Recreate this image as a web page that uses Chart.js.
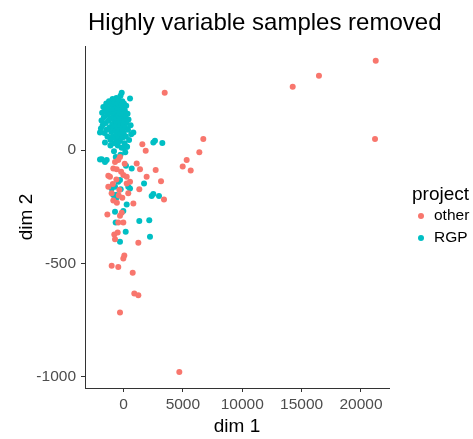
<!DOCTYPE html>
<html>
<head>
<meta charset="utf-8">
<script src="https://cdn.jsdelivr.net/npm/chart.js"></script>
<style>
  html, body { margin: 0; padding: 0; background: #fff; }
  #wrap { width: 473px; height: 439px; }
</style>
</head>
<body>
<div id="wrap"><canvas id="mds"></canvas></div>
<script>
// MDS coordinates per sample, split by project
const otherPts = [
  [3470, 253], [14250, 279], [16460, 328], [21240, 394], [21180, 49],
  [6720, 49], [6385, -10], [5320, -44], [4985, -72], [5660, -90],
  [2710, -88], [3160, -137], [3410, -218], [4700, -979],
  [-295, -716], [910, -632], [1250, -640],
  [1585, 26], [1870, -3], [1110, -59], [1390, -85], [1950, -118], [1330, -173],
  [-715, -52], [-860, -81], [-575, -85], [-1280, -113], [-1140, -118],
  [-15, -110], [270, -118], [-1280, -162], [270, -147], [550, -140],
  [-295, -30], [-350, -176], [-440, -44], [-600, -130], [-900, -150],
  [100, -60], [-200, -95], [-1000, -190], [400, -190], [-100, -210],
  [-860, -222], [-560, -232], [-400, -200],
  [-1360, -284], [-295, -290], [-150, -276], [-15, -319], [-440, -319],
  [830, -235], [-775, -372], [-490, -363], [-715, -393], [1250, -409],
  [70, -465], [-15, -478], [-995, -510], [-440, -515], [775, -541]
];
const rgpPts = [
  [-1900, 95], [-1850, 130], [-1800, 165], [-1750, 110], [-1700, 190],
  [-1650, 145], [-1600, 75], [-1550, 175], [-1500, 120], [-1450, 205],
  [-1420, 90], [-1380, 155], [-1350, 60], [-1300, 185], [-1260, 130],
  [-1220, 215], [-1180, 100], [-1150, 165], [-1100, 45], [-1080, 140],
  [-1050, 200], [-1020, 80], [-980, 175], [-950, 115], [-920, 225],
  [-900, 60], [-870, 150], [-850, 190], [-820, 100], [-800, 30],
  [-780, 170], [-750, 130], [-730, 210], [-700, 85], [-680, 160],
  [-650, 50], [-640, 195], [-620, 120], [-600, 230], [-580, 140],
  [-560, 70], [-540, 180], [-520, 105], [-500, 205], [-480, 20],
  [-470, 155], [-450, 90], [-430, 185], [-420, 125], [-400, 55],
  [-390, 220], [-370, 165], [-350, 100], [-330, 195], [-310, 135],
  [-300, 40], [-280, 175], [-260, 110], [-250, 240], [-230, 70],
  [-220, 150], [-200, 200], [-180, 120], [-160, 10], [-150, 253],
  [-140, 170], [-120, 90], [-100, 215], [-90, 140], [-70, 55],
  [-50, 185], [-30, 115], [-10, 160], [20, 75], [40, 205],
  [60, 130], [90, 30], [110, 175], [140, 100], [170, 150],
  [200, 60], [230, 195], [260, 120], [300, 15], [340, 160],
  [380, 90], [420, 135], [470, 45], [550, 228], [600, 110],
  [650, 70], [830, 78], [270, 15], [-1980, 78], [-1560, 34],
  [-1840, -40], [-1415, -44], [-1980, -41], [-1560, -52],
  [-1100, 20], [-800, -5], [-500, 35], [-250, -20], [0, 10], [150, -10], [-650, -30],
  [2510, 34], [2650, 41], [3270, 31],
  [210, -69], [690, -81], [-295, -132], [-440, -140], [-715, -162], [-995, -169],
  [-235, -173], [400, -162], [550, -169], [1730, -147], [-630, -198], [-575, -209],
  [-860, -198], [-715, -213], [270, -240], [-715, -272], [-15, -268], [-660, -319],
  [1330, -313], [2170, -309], [185, -360], [-295, -404], [2230, -382],
  [2370, -202], [2510, -194], [2990, -202]
];
const groups = ['other', 'RGP'];
const groupColors = ['#F8766D', '#00BFC4'];
const xTicks = [0, 5000, 10000, 15000, 20000];
const yTicks = [-1000, -500, 0];

const toXY = arr => arr.map(p => ({ x: p[0], y: p[1] }));

const axisCol = '#333333';
const tickCol = '#4D4D4D';
const fam = '"Liberation Sans", Arial, Helvetica, sans-serif';

// titles and the ggplot-style legend are drawn by hand
const ggText = {
  id: 'ggText',
  afterDraw(chart) {
    const ctx = chart.ctx;
    const a = chart.chartArea;
    ctx.save();
    ctx.fillStyle = '#000';
    ctx.textBaseline = 'alphabetic';
    ctx.textAlign = 'left';
    ctx.font = '24px ' + fam;
    ctx.fillText('Highly variable samples removed', a.left + 3, 30);

    ctx.font = '19px ' + fam;
    ctx.textAlign = 'center';
    ctx.textBaseline = 'middle';
    ctx.fillText('dim 1', (a.left + a.right) / 2, 427);
    ctx.save();
    ctx.translate(27, (a.top + a.bottom) / 2);
    ctx.rotate(-Math.PI / 2);
    ctx.fillText('dim 2', 0, 0);
    ctx.restore();

    // legend
    ctx.textAlign = 'left';
    ctx.font = '19px ' + fam;
    ctx.fillText('project', 412, 195);
    ctx.font = '15.5px ' + fam;
    chart.data.datasets.forEach((ds, i) => {
      const y = 216 + i * 22;
      ctx.fillStyle = ds.backgroundColor;
      ctx.beginPath();
      ctx.arc(421, y, 3, 0, Math.PI * 2);
      ctx.fill();
      ctx.fillStyle = '#000';
      ctx.fillText(ds.label, 434, y);
    });
    ctx.restore();
  }
};

new Chart(document.getElementById('mds'), {
  type: 'scatter',
  data: {
    datasets: groups.map((g, i) => ({
      label: g,
      data: toXY(i === 0 ? otherPts : rgpPts),
      backgroundColor: groupColors[i],
      borderWidth: 0,
      pointRadius: 3,
      pointHoverRadius: 3
    }))
  },
  options: {
    responsive: true,
    maintainAspectRatio: false,
    animation: false,
    layout: { padding: { top: 46, right: 84, bottom: 0, left: 0 } },
    plugins: {
      legend: { display: false },
      title: { display: false },
      tooltip: { enabled: false }
    },
    scales: {
      x: {
        type: 'linear',
        min: -3242,
        max: 22358,
        afterFit(s) { s.height = 51; },
        afterBuildTicks(s) { s.ticks = xTicks.map(v => ({ value: v })); },
        grid: { drawOnChartArea: false, drawTicks: true, tickLength: 4, color: axisCol, lineWidth: 1 },
        border: { display: true, color: axisCol, width: 1 },
        ticks: { color: tickCol, padding: 3, maxRotation: 0, font: { family: fam, size: 15.5 },
                 callback: v => String(v) }
      },
      y: {
        type: 'linear',
        min: -1049,
        max: 459,
        afterFit(s) { s.width = 85; },
        afterBuildTicks(s) { s.ticks = yTicks.map(v => ({ value: v })); },
        grid: { drawOnChartArea: false, drawTicks: true, tickLength: 4, color: axisCol, lineWidth: 1 },
        border: { display: true, color: axisCol, width: 1 },
        ticks: { color: tickCol, padding: 5, font: { family: fam, size: 15.5 },
                 callback: v => String(v) }
      }
    }
  },
  plugins: [ggText]
});
</script>
</body>
</html>
